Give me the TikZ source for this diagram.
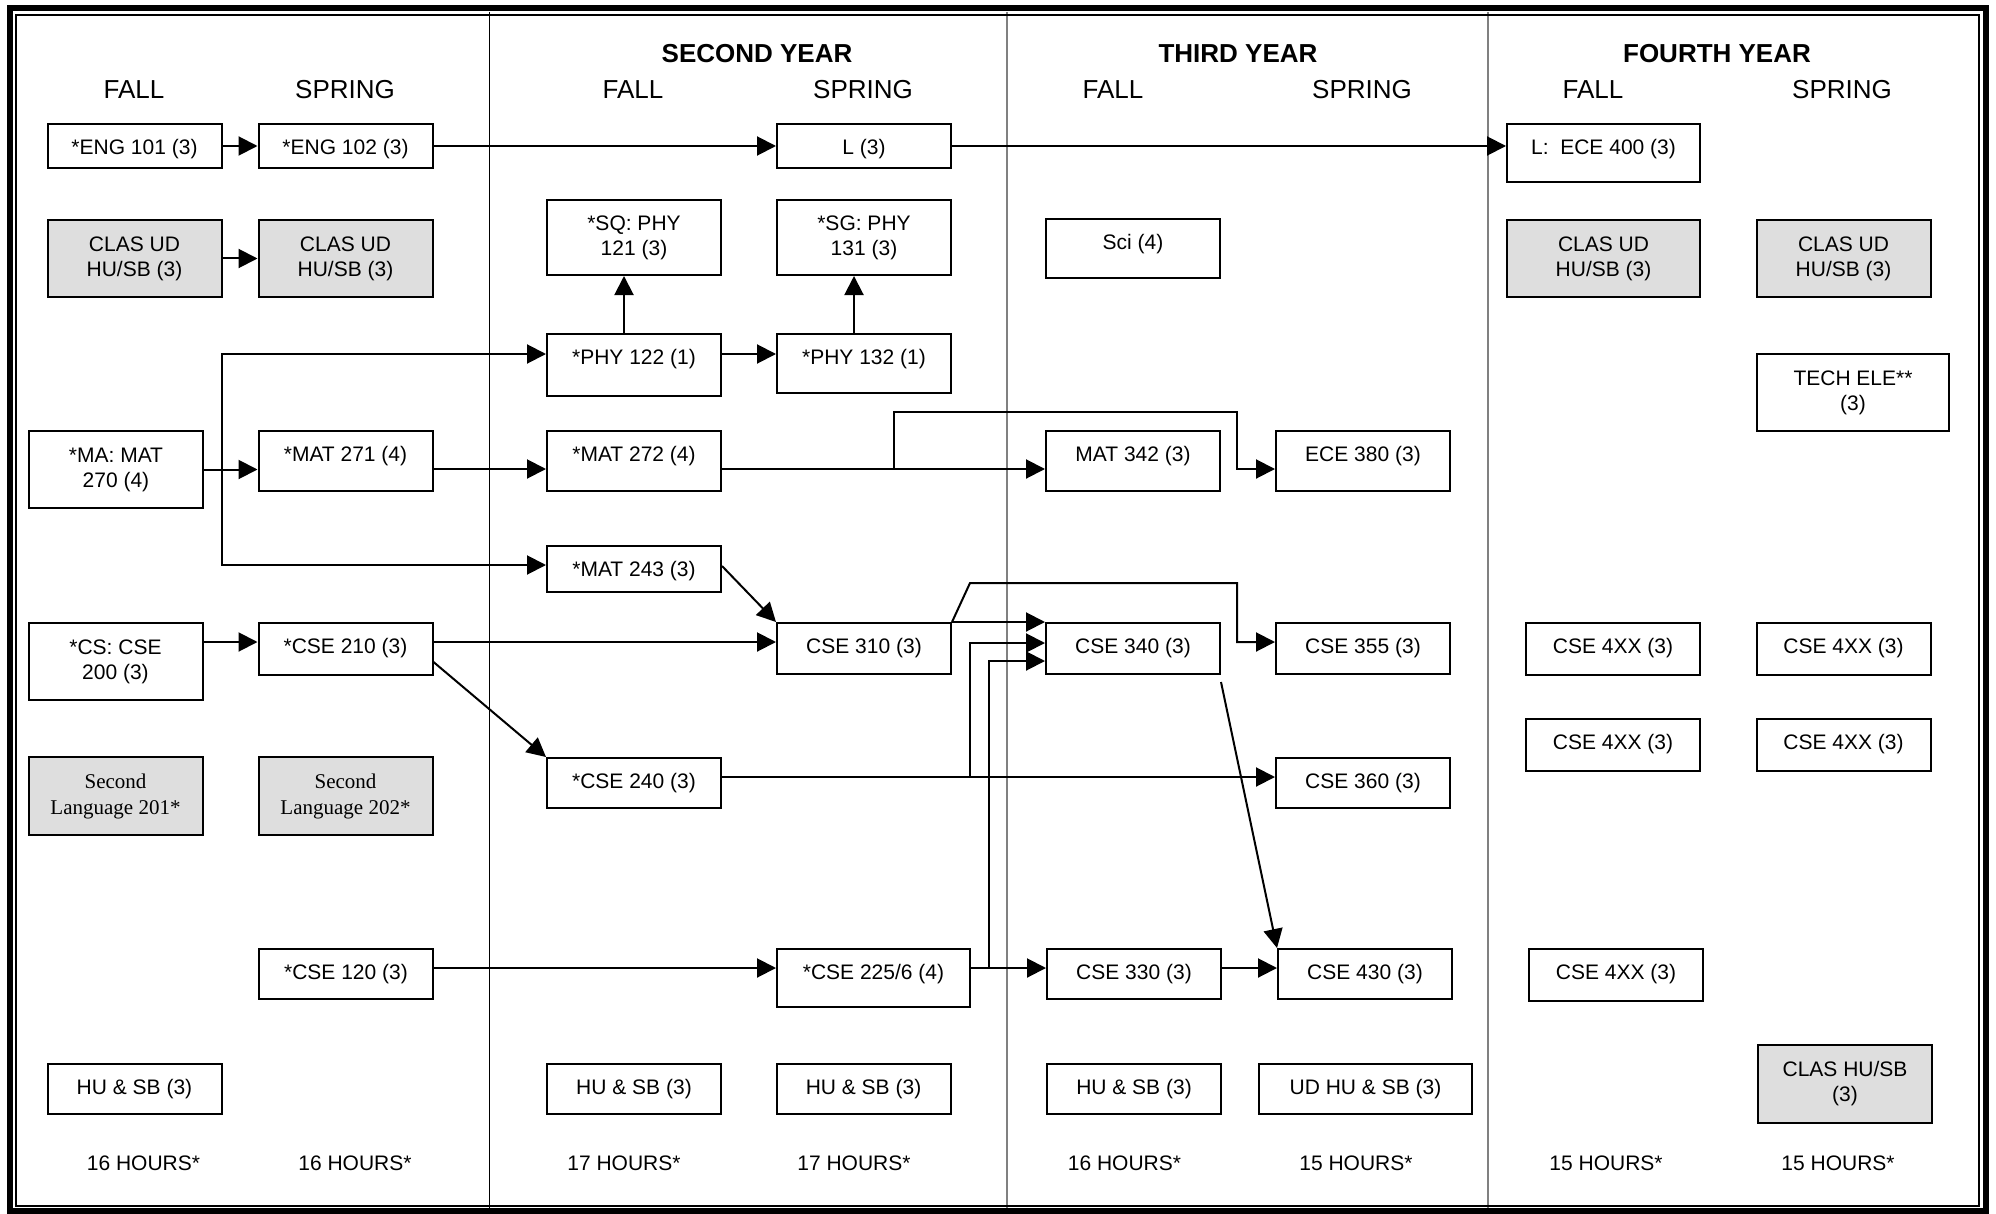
\documentclass[tikz,border=0pt]{standalone}
\usepackage{fontspec}
\setmainfont{Liberation Sans}
\newfontfamily\langfont{Liberation Serif}
\usetikzlibrary{arrows.meta}
\definecolor{clasgray}{gray}{0.87}
\newcommand\coursefont{\fontsize{10.5}{12.5}\selectfont}
\newcommand\headfont{\fontsize{13}{15}\selectfont}
\newcommand\langsize{\langfont\fontsize{10.5}{13}\selectfont}

\begin{document}
\begin{tikzpicture}[x=0.5pt, y=-0.5pt, line width=1pt, >={Triangle[length=9.5pt,width=9.5pt]},
  course node/.style={draw, anchor=north, inner sep=0pt, minimum width=87pt, font=\coursefont},
  one line/.style={text height=15.25pt, text depth=#1},
  two lines/.style={align=center, minimum height=#1},
  clas node/.style={course node, fill=clasgray},
  head node/.style={anchor=base, font=\headfont},
  year node/.style={anchor=base, font=\headfont\bfseries},
  hours node/.style={anchor=base, font=\coursefont}]
  \useasboundingbox (0,0) rectangle (1996,1214);

  \draw[line width=0.5pt] (489,12) -- (489,1214);
  \draw[gray, line width=0.75pt] (1007,12) -- (1007,1214) (1488,12) -- (1488,1214);
  \draw[line width=3pt] (9.5,8.5) rectangle (1986,1210.5);
  \draw (16,15) rectangle (1979,1206);

  \node[head node] (h1) at (134,99) {FALL};
  \node[head node] (h2) at (345,99) {SPRING};
  \node[year node] (h3) at (757,63) {SECOND YEAR};
  \node[head node] (h4) at (633,99) {FALL};
  \node[head node] (h5) at (863,99) {SPRING};
  \node[year node] (h6) at (1238,63) {THIRD YEAR};
  \node[head node] (h7) at (1113,99) {FALL};
  \node[head node] (h8) at (1362,99) {SPRING};
  \node[year node] (h9) at (1717,63) {FOURTH YEAR};
  \node[head node] (h10) at (1593,99) {FALL};
  \node[head node] (h11) at (1842,99) {SPRING};

  \node[course node, one line=6.75pt] (1) at (134.5,123) {*ENG 101 (3)};
  \node[clas node, two lines=38.5pt] (2) at (134.5,219) {CLAS UD\\HU/SB (3)};
  \node[course node, two lines=38.5pt] (3) at (116,430) {*MA: MAT\\270 (4)};
  \node[course node, two lines=38.5pt] (4) at (115.5,622) {*CS: CSE\\200 (3)};
  \node[clas node, two lines=39pt, font=\langsize] (5) at (115.5,756) {Second\\Language 201*};
  \node[course node, one line=9.75pt] (6) at (134.5,1063) {HU \& SB (3)};

  \node[course node, one line=6.75pt] (7) at (345.5,123) {*ENG 102 (3)};
  \node[clas node, two lines=38.5pt] (8) at (345.5,219) {CLAS UD\\HU/SB (3)};
  \node[course node, one line=14.75pt] (9) at (345.5,430) {*MAT 271 (4)};
  \node[course node, one line=10.75pt] (10) at (345.5,622) {*CSE 210 (3)};
  \node[clas node, two lines=39pt, font=\langsize] (11) at (345.5,756) {Second\\Language 202*};
  \node[course node, one line=9.75pt] (12) at (346,948) {*CSE 120 (3)};

  \node[course node, two lines=37.5pt] (13) at (634,199) {*SQ: PHY\\121 (3)};
  \node[course node, one line=15.75pt] (14) at (634,333) {*PHY 122 (1)};
  \node[course node, one line=14.75pt] (15) at (634,430) {*MAT 272 (4)};
  \node[course node, one line=7.75pt] (16) at (634,545) {*MAT 243 (3)};
  \node[course node, one line=9.75pt] (17) at (634,757) {*CSE 240 (3)};
  \node[course node, one line=9.75pt] (18) at (634,1063) {HU \& SB (3)};

  \node[course node, one line=6.75pt] (19) at (864,123) {L (3)};
  \node[course node, two lines=37.5pt] (20) at (864,199) {*SG: PHY\\131 (3)};
  \node[course node, one line=14.25pt] (21) at (864,333) {*PHY 132 (1)};
  \node[course node, one line=10.25pt] (22) at (864,622) {CSE 310 (3)};
  \node[course node, one line=13.75pt, minimum width=96.5pt] (23) at (873.5,948) {*CSE 225/6 (4)};
  \node[course node, one line=9.75pt] (24) at (863.5,1063) {HU \& SB (3)};

  \node[course node, one line=14.25pt] (25) at (1133,218) {Sci (4)};
  \node[course node, one line=14.75pt] (26) at (1133,430) {MAT 342 (3)};
  \node[course node, one line=10.25pt] (27) at (1133,622) {CSE 340 (3)};
  \node[course node, one line=9.75pt] (28) at (1134,948) {CSE 330 (3)};
  \node[course node, one line=9.75pt] (29) at (1134,1063) {HU \& SB (3)};

  \node[course node, one line=14.75pt] (30) at (1363,430) {ECE 380 (3)};
  \node[course node, one line=10.25pt] (31) at (1363,622) {CSE 355 (3)};
  \node[course node, one line=9.75pt] (32) at (1363,757) {CSE 360 (3)};
  \node[course node, one line=9.75pt] (33) at (1365,948) {CSE 430 (3)};
  \node[course node, one line=9.75pt, minimum width=106.5pt] (34) at (1365.5,1063) {UD HU \& SB (3)};

  \node[course node, one line=13.75pt, minimum width=96.5pt] (35) at (1603.5,123) {L:\ \ ECE 400 (3)};
  \node[clas node, two lines=38.5pt, minimum width=96.5pt] (36) at (1603.5,219) {CLAS UD\\HU/SB (3)};
  \node[course node, one line=10.75pt] (37) at (1613,622) {CSE 4XX (3)};
  \node[course node, one line=10.75pt] (38) at (1613,718) {CSE 4XX (3)};
  \node[course node, one line=10.75pt] (39) at (1616,948) {CSE 4XX (3)};

  \node[clas node, two lines=38.5pt] (40) at (1843.5,219) {CLAS UD\\HU/SB (3)};
  \node[course node, two lines=38.5pt, minimum width=96pt] (41) at (1853,353) {TECH ELE**\\(3)};
  \node[course node, one line=10.75pt] (42) at (1843.5,622) {CSE 4XX (3)};
  \node[course node, one line=10.75pt] (43) at (1843.5,718) {CSE 4XX (3)};
  \node[clas node, two lines=39pt] (44) at (1845,1044) {CLAS HU/SB\\(3)};

  \node[hours node] (t1) at (143.5,1170) {16 HOURS*};
  \node[hours node] (t2) at (355,1170) {16 HOURS*};
  \node[hours node] (t3) at (624,1170) {17 HOURS*};
  \node[hours node] (t4) at (854,1170) {17 HOURS*};
  \node[hours node] (t5) at (1124.5,1170) {16 HOURS*};
  \node[hours node] (t6) at (1356,1170) {15 HOURS*};
  \node[hours node] (t7) at (1606,1170) {15 HOURS*};
  \node[hours node] (t8) at (1838,1170) {15 HOURS*};

  \path[->]
    (1.east) edge (7.west)
    (7.east) edge (19.west)
    (19.east) edge (19.east -| 35.west)
    (2.east) edge (8.west)
    (3.east) edge (3.east -| 9.west)
    ([yshift=-4pt]9.east) edge ([yshift=-4pt]15.west)
    ([yshift=-4pt]15.east) edge ([yshift=-4pt]26.west)
    ([yshift=5.5pt]14.east) edge ([yshift=5.5pt]14.east -| 21.west)
    ([xshift=-5pt]14.north) edge ([xshift=-5pt]13.south)
    ([xshift=-5pt]21.north) edge ([xshift=-5pt]20.south)
    ([yshift=1.5pt]16.east) edge (22.north west)
    ([yshift=9.75pt]4.east) edge ([yshift=9.75pt]4.east -| 10.west)
    ([yshift=3.5pt]10.east) edge ([yshift=3.5pt]10.east -| 22.west)
    ([yshift=-6.5pt]10.east) edge (17.north west)
    (22.north east) edge (27.north west)
    ([yshift=3pt]17.east) edge ([yshift=3pt]32.west)
    ([yshift=3pt]12.east) edge ([yshift=3pt]12.east -| 23.west)
    ([yshift=5pt]23.east) edge ([yshift=5pt]23.east -| 28.west)
    ([yshift=3pt]28.east) edge ([yshift=3pt]33.west)
    ([yshift=-3.5pt]27.south east) edge (33.north west);

  \coordinate (m) at ([xshift=9pt]3.east);
  \draw[->] (m) |- ([yshift=5.5pt]14.west);
  \draw[->] (m) |- ([yshift=2pt]16.west);
  \draw[->] ([xshift=86pt,yshift=-4pt]15.east) -- ++(0,-57) -| ([xshift=-19pt,yshift=-4pt]30.west) -- ([yshift=-4pt]30.west);
  \draw[->] (22.north east) -- ++(18,-39) -| ([xshift=-19pt,yshift=3.25pt]31.west) -- ([yshift=3.25pt]31.west);
  \draw[->] ([xshift=124pt,yshift=3pt]17.east) |- ([yshift=2.75pt]27.west);
  \draw[->] ([xshift=9pt,yshift=5pt]23.east) |- ([yshift=-6.25pt]27.west);
\end{tikzpicture}
\end{document}
